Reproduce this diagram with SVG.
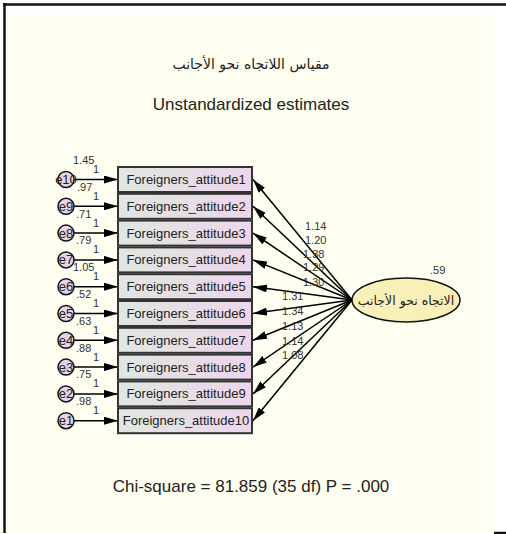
<svg xmlns="http://www.w3.org/2000/svg" width="506" height="534" viewBox="0 0 506 534">
<defs>
<linearGradient id="boxg" x1="0" y1="0" x2="1" y2="0">
<stop offset="0" stop-color="#dfe7df"/>
<stop offset="1" stop-color="#edd6ec"/>
</linearGradient>
<marker id="ah" viewBox="0 0 14 8" refX="14" refY="4" markerWidth="14" markerHeight="8" markerUnits="userSpaceOnUse" orient="auto">
<path d="M0,0 L14,4 L0,8 Z" fill="#000"/>
</marker>
<style>
.box{fill:url(#boxg);stroke:#333;stroke-width:2}
.bt{font-family:"Liberation Sans",Arial,sans-serif;font-size:13px;fill:#222;text-anchor:middle}
.err{fill:#e6d3e8;stroke:#111;stroke-width:1.5}
.et{font-family:"Liberation Sans",Arial,sans-serif;font-size:13px;fill:#222;text-anchor:middle}
.sm{font-family:"Liberation Sans",Arial,sans-serif;font-size:11px;fill:#333}
.ln{stroke:#000;stroke-width:1.5;fill:none;marker-end:url(#ah)}
.big{font-family:"Liberation Sans",Arial,sans-serif;font-size:17px;fill:#222;text-anchor:middle}
.ar{font-family:"DejaVu Sans","Noto Sans",sans-serif;fill:#222;text-anchor:middle}
</style>
</defs>
<rect x="0" y="0" width="506" height="534" fill="#fff"/>
<rect x="7" y="14" width="486" height="519" fill="#fefff0"/>
<g id="frame" stroke="#111" stroke-width="2.5">
<line x1="3" y1="4.5" x2="506" y2="4.5"/>
<line x1="4.5" y1="3" x2="4.5" y2="533"/>
<line x1="494" y1="533" x2="506" y2="533"/>
</g>
<text class="ar" x="251" y="69" font-size="14" direction="rtl">مقياس اللاتجاه نحو الأجانب</text>
<text class="big" x="251" y="110">Unstandardized estimates</text>
<g id="connectors">
<line class="ln" x1="74" y1="179.5" x2="118" y2="179.5"/>
<line class="ln" x1="74" y1="206.3" x2="118" y2="206.3"/>
<line class="ln" x1="74" y1="233.1" x2="118" y2="233.1"/>
<line class="ln" x1="74" y1="259.9" x2="118" y2="259.9"/>
<line class="ln" x1="74" y1="286.7" x2="118" y2="286.7"/>
<line class="ln" x1="74" y1="313.5" x2="118" y2="313.5"/>
<line class="ln" x1="74" y1="340.3" x2="118" y2="340.3"/>
<line class="ln" x1="74" y1="367.1" x2="118" y2="367.1"/>
<line class="ln" x1="74" y1="393.9" x2="118" y2="393.9"/>
<line class="ln" x1="74" y1="420.7" x2="118" y2="420.7"/>
<line class="ln" x1="352" y1="300" x2="253" y2="179.5"/>
<line class="ln" x1="352" y1="300" x2="253" y2="206.3"/>
<line class="ln" x1="352" y1="300" x2="253" y2="233.1"/>
<line class="ln" x1="352" y1="300" x2="253" y2="259.9"/>
<line class="ln" x1="352" y1="300" x2="253" y2="286.7"/>
<line class="ln" x1="352" y1="300" x2="253" y2="313.5"/>
<line class="ln" x1="352" y1="300" x2="253" y2="340.3"/>
<line class="ln" x1="352" y1="300" x2="253" y2="367.1"/>
<line class="ln" x1="352" y1="300" x2="253" y2="393.9"/>
<line class="ln" x1="352" y1="300" x2="253" y2="420.7"/>
<g class="sm">
<text x="93" y="173">1</text>
<text x="93" y="199.8">1</text>
<text x="93" y="226.6">1</text>
<text x="93" y="253.4">1</text>
<text x="93" y="280.2">1</text>
<text x="93" y="307">1</text>
<text x="93" y="333.8">1</text>
<text x="93" y="360.6">1</text>
<text x="93" y="387.4">1</text>
<text x="93" y="414.2">1</text>
<text x="305" y="230">1.14</text>
<text x="305" y="244">1.20</text>
<text x="303" y="258">1.38</text>
<text x="303" y="271">1.29</text>
<text x="303" y="286">1.30</text>
<text x="282" y="300">1.31</text>
<text x="282" y="315">1.34</text>
<text x="282" y="330">1.13</text>
<text x="282" y="345">1.14</text>
<text x="282" y="359">1.08</text>
</g>
</g>
<g id="e10"><circle class="err" cx="66" cy="179.5" r="8"/><text class="et" x="66" y="184">e10</text><text class="sm" x="73" y="164">1.45</text></g>
<g id="e9"><circle class="err" cx="66" cy="206.3" r="8"/><text class="et" x="66" y="211">e9</text><text class="sm" x="77" y="191">.97</text></g>
<g id="e8"><circle class="err" cx="66" cy="233.1" r="8"/><text class="et" x="66" y="237.6">e8</text><text class="sm" x="76" y="217.6">.71</text></g>
<g id="e7"><circle class="err" cx="66" cy="259.9" r="8"/><text class="et" x="66" y="264.4">e7</text><text class="sm" x="76" y="244.4">.79</text></g>
<g id="e6"><circle class="err" cx="66" cy="286.7" r="8"/><text class="et" x="66" y="291.2">e6</text><text class="sm" x="73" y="271.2">1.05</text></g>
<g id="e5"><circle class="err" cx="66" cy="313.5" r="8"/><text class="et" x="66" y="318">e5</text><text class="sm" x="76" y="298">.52</text></g>
<g id="e4"><circle class="err" cx="66" cy="340.3" r="8"/><text class="et" x="66" y="344.8">e4</text><text class="sm" x="76" y="324.8">.63</text></g>
<g id="e3"><circle class="err" cx="66" cy="367.1" r="8"/><text class="et" x="66" y="371.6">e3</text><text class="sm" x="76" y="351.6">.88</text></g>
<g id="e2"><circle class="err" cx="66" cy="393.9" r="8"/><text class="et" x="66" y="398.4">e2</text><text class="sm" x="76" y="378.4">.75</text></g>
<g id="e1"><circle class="err" cx="66" cy="420.7" r="8"/><text class="et" x="66" y="425.2">e1</text><text class="sm" x="76" y="405.2">.98</text></g>
<g id="fa1"><rect class="box" x="118" y="167" width="134" height="25"/><text class="bt" x="186" y="184">Foreigners_attitude1</text></g>
<g id="fa2"><rect class="box" x="118" y="193.8" width="134" height="25"/><text class="bt" x="186" y="210.8">Foreigners_attitude2</text></g>
<g id="fa3"><rect class="box" x="118" y="220.6" width="134" height="25"/><text class="bt" x="186" y="237.6">Foreigners_attitude3</text></g>
<g id="fa4"><rect class="box" x="118" y="247.4" width="134" height="25"/><text class="bt" x="186" y="264.4">Foreigners_attitude4</text></g>
<g id="fa5"><rect class="box" x="118" y="274.2" width="134" height="25"/><text class="bt" x="186" y="291.2">Foreigners_attitude5</text></g>
<g id="fa6"><rect class="box" x="118" y="301" width="134" height="25"/><text class="bt" x="186" y="318">Foreigners_attitude6</text></g>
<g id="fa7"><rect class="box" x="118" y="327.8" width="134" height="25"/><text class="bt" x="186" y="344.8">Foreigners_attitude7</text></g>
<g id="fa8"><rect class="box" x="118" y="354.6" width="134" height="25"/><text class="bt" x="186" y="371.6">Foreigners_attitude8</text></g>
<g id="fa9"><rect class="box" x="118" y="381.4" width="134" height="25"/><text class="bt" x="186" y="398.4">Foreigners_attitude9</text></g>
<g id="fa10"><rect class="box" x="118" y="408.2" width="134" height="25"/><text class="bt" x="186" y="425.2">Foreigners_attitude10</text></g>
<g id="latent"><ellipse cx="406" cy="300" rx="54" ry="22" fill="#f8f0b8" stroke="#111" stroke-width="1.5"/><text class="ar" x="406" y="304.5" font-size="12.5" direction="rtl">الاتجاه نحو الأجانب</text><text class="sm" x="430" y="274">.59</text></g>
<text class="big" x="251" y="492">Chi-square = 81.859 (35 df) P = .000</text>
</svg>
